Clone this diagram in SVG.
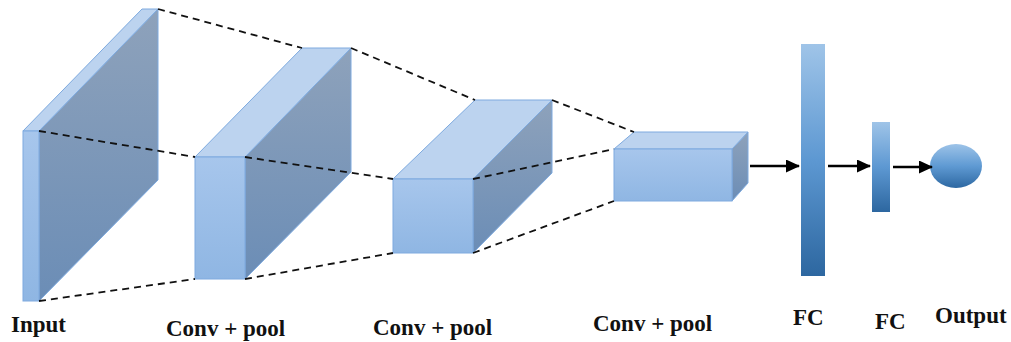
<svg xmlns="http://www.w3.org/2000/svg" width="1011" height="342" viewBox="0 0 1011 342">
  <style>
    .front { fill: url(#gFront); stroke: #7eaadf; stroke-width: 1; }
    .top { fill: #bcd3ef; stroke: #7eaadf; stroke-width: 1; }
    .side { fill: url(#gSide); stroke: #7eaadf; stroke-width: 1; }
    .dash { fill: none; stroke: #111; stroke-width: 1.8; stroke-dasharray: 7 5; }
    .arrow { fill: none; stroke: #000; stroke-width: 2.4; marker-end: url(#head); }
    .label { font-family: "Liberation Serif", "Times New Roman", serif; font-weight: bold; font-size: 23px; fill: #111; }
  </style>
  <defs>
    <linearGradient id="gFront" x1="0" y1="0" x2="0" y2="1">
      <stop offset="0" stop-color="#a7c6ec"/>
      <stop offset="1" stop-color="#8fb6e3"/>
    </linearGradient>
    <linearGradient id="gSide" x1="0" y1="0" x2="0" y2="1">
      <stop offset="0" stop-color="#8ea2bb"/>
      <stop offset="1" stop-color="#6b8db6"/>
    </linearGradient>
    <linearGradient id="gFC" x1="0" y1="0" x2="0" y2="1">
      <stop offset="0" stop-color="#9fc4e8"/>
      <stop offset="0.5" stop-color="#5d98d2"/>
      <stop offset="1" stop-color="#2d67a0"/>
    </linearGradient>
    <linearGradient id="gOut" x1="0" y1="0" x2="0" y2="1">
      <stop offset="0" stop-color="#9dc3e8"/>
      <stop offset="0.5" stop-color="#5f9ad3"/>
      <stop offset="1" stop-color="#2d68a2"/>
    </linearGradient>
    <marker id="head" markerWidth="14" markerHeight="13" refX="13" refY="6.5" orient="auto" markerUnits="userSpaceOnUse" viewBox="0 0 14 13">
      <path d="M0,0 L14,6.5 L0,13 Z" fill="#000"/>
    </marker>
  </defs>

  <!-- input layer -->
  <g id="input">
    <polygon class="side" points="39,131 158,9 158,180 39,301"/>
    <polygon class="top" points="23,131 142,9 158,9 39,131"/>
    <rect class="front" x="23" y="131" width="16" height="170"/>
  </g>

  <!-- first conv + pool block -->
  <g id="conv1">
    <polygon class="side" points="245,157 351,48 351,172 245,279"/>
    <polygon class="top" points="195,157 302,48 351,48 245,157"/>
    <rect class="front" x="195" y="157" width="50" height="122"/>
  </g>

  <!-- second conv + pool block -->
  <g id="conv2">
    <polygon class="side" points="473,179 552,100 552,173 473,253"/>
    <polygon class="top" points="393,179 475,100 552,100 473,179"/>
    <rect class="front" x="393" y="179" width="80" height="74"/>
  </g>

  <!-- third conv + pool block -->
  <g id="conv3">
    <polygon class="side" points="732,149 748,132 748,183 732,201"/>
    <polygon class="top" points="614,149 634,132 748,132 732,149"/>
    <rect class="front" x="614" y="149" width="118" height="52"/>
  </g>

  <!-- fully connected layers and output -->
  <g id="fc1">
    <rect x="801" y="44" width="24" height="232" fill="url(#gFC)"/>
  </g>
  <g id="fc2">
    <rect x="872" y="122" width="18" height="90" fill="url(#gFC)"/>
  </g>
  <g id="output">
    <ellipse cx="956" cy="166" rx="26" ry="22" fill="url(#gOut)"/>
  </g>

  <!-- connectors -->
  <g id="connectors">
    <line class="dash" x1="158" y1="9" x2="302" y2="48"/>
    <line class="dash" x1="351" y1="48" x2="475" y2="100"/>
    <line class="dash" x1="552" y1="100" x2="634" y2="132"/>
    <line class="dash" x1="39" y1="131" x2="195" y2="157"/>
    <line class="dash" x1="245" y1="157" x2="393" y2="179"/>
    <line class="dash" x1="473" y1="179" x2="614" y2="149"/>
    <line class="dash" x1="39" y1="301" x2="195" y2="279"/>
    <line class="dash" x1="245" y1="279" x2="393" y2="253"/>
    <line class="dash" x1="473" y1="253" x2="614" y2="201"/>
    <line class="arrow" x1="750" y1="166" x2="799" y2="166"/>
    <line class="arrow" x1="828" y1="166" x2="870" y2="166"/>
    <line class="arrow" x1="893" y1="167" x2="932" y2="167"/>
  </g>

  <!-- labels -->
  <g id="labels">
    <text class="label" x="11" y="332">Input</text>
    <text class="label" x="166" y="336">Conv + pool</text>
    <text class="label" x="373" y="335">Conv + pool</text>
    <text class="label" x="593" y="331">Conv + pool</text>
    <text class="label" x="793" y="325">FC</text>
    <text class="label" x="875" y="329">FC</text>
    <text class="label" x="935" y="323">Output</text>
  </g>
</svg>
